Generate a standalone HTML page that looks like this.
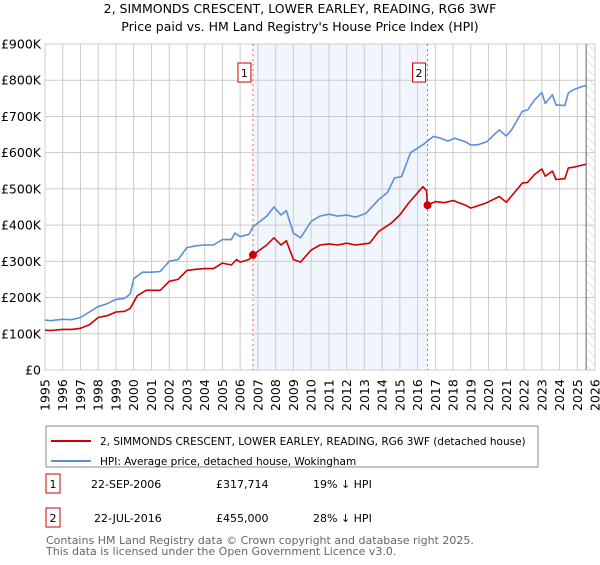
<!DOCTYPE html>
<html><head><meta charset="utf-8"><style>
body{margin:0;background:#fff;font-family:"Liberation Sans","DejaVu Sans",sans-serif;}
svg text{font-family:"DejaVu Sans","Liberation Sans",sans-serif;}
</style></head><body>
<svg id="c" width="600" height="560" viewBox="0 0 600 560">
<text x="300" y="13" text-anchor="middle" font-size="12.5" fill="#000">2, SIMMONDS CRESCENT, LOWER EARLEY, READING, RG6 3WF</text>
<text x="300" y="31" text-anchor="middle" font-size="12.5" fill="#000">Price paid vs. HM Land Registry's House Price Index (HPI)</text>
<g id="plot"></g>
<rect x="46" y="426" width="492" height="41" fill="#fff" stroke="#888"/>
<line x1="51" y1="441" x2="91" y2="441" stroke="#cc0000" stroke-width="2"/>
<text x="100" y="445" font-size="10.5">2, SIMMONDS CRESCENT, LOWER EARLEY, READING, RG6 3WF (detached house)</text>
<line x1="51" y1="461" x2="91" y2="461" stroke="#5b8fd6" stroke-width="2"/>
<text x="100" y="465" font-size="10.5">HPI: Average price, detached house, Wokingham</text>
<g>
<rect x="46" y="474" width="14" height="19" fill="#fff" stroke="#cc0000"/>
<text x="53" y="488" font-size="11" text-anchor="middle">1</text>
<text x="91" y="488" font-size="11">22-SEP-2006</text>
<text x="216" y="488" font-size="11">£317,714</text>
<text x="313" y="488" font-size="11">19% ↓ HPI</text></g>
<g>
<rect x="46" y="508" width="14" height="19" fill="#fff" stroke="#cc0000"/>
<text x="53" y="522" font-size="11" text-anchor="middle">2</text>
<text x="94" y="522" font-size="11">22-JUL-2016</text>
<text x="216" y="522" font-size="11">£455,000</text>
<text x="313" y="522" font-size="11">28% ↓ HPI</text></g>
<text x="46" y="544" font-size="11" fill="#666">Contains HM Land Registry data © Crown copyright and database right 2025.</text>
<text x="46" y="555" font-size="11" fill="#666">This data is licensed under the Open Government Licence v3.0.</text>
</svg>
<script>
const hpiYears=[1995,1995.3,1996,1996.5,1997,1997.5,1998,1998.5,1999,1999.5,1999.8,2000,2000.5,2001,2001.5,2002,2002.5,2003,2003.5,2004,2004.5,2005,2005.5,2005.7,2006,2006.5,2006.72,2007.5,2007.9,2008.3,2008.6,2009,2009.4,2010,2010.5,2011,2011.5,2012,2012.5,2013.1,2013.8,2014.3,2014.7,2015.1,2015.6,2016.3,2016.9,2017.3,2017.7,2018.1,2018.7,2019,2019.4,2019.9,2020.6,2021,2021.3,2021.9,2022.2,2022.6,2023,2023.2,2023.6,2023.8,2024.3,2024.5,2024.8,2025.3,2025.5];
const hpiValues=[138,136,140,139,145,160,175,183,195,198,210,252,270,270,272,300,305,338,343,345,345,360,360,378,368,375,395,425,450,428,440,378,365,410,425,430,425,428,422,433,470,490,530,534,600,622,645,640,632,640,630,621,622,630,663,646,663,714,718,746,766,736,760,732,730,765,774,783,785];
const propYears=[1995,1995.3,1996,1996.5,1997,1997.5,1998,1998.5,1999,1999.5,1999.8,2000.2,2000.7,2001.5,2002,2002.5,2003,2003.5,2004,2004.5,2005,2005.5,2005.8,2006,2006.5,2006.72,2007.5,2007.9,2008.3,2008.6,2009,2009.4,2010,2010.5,2011,2011.5,2012,2012.5,2013.3,2013.8,2014.5,2015,2015.5,2016.3,2016.5,2016.56,2017,2017.5,2018,2018.7,2019,2019.9,2020.6,2021,2021.9,2022.2,2022.6,2023,2023.2,2023.6,2023.8,2024.3,2024.5,2024.8,2025.3,2025.5];
const propValues=[110,109,112,112,115,125,145,150,160,162,170,205,220,220,245,250,275,278,280,280,295,290,305,298,305,317.714,345,365,345,357,305,298,331,345,348,345,350,345,350,382,405,428,461,506,495,455,465,462,468,455,447,462,479,463,516,518,540,555,535,549,526,528,558,560,566,568];
const yTicks=[0,100,200,300,400,500,600,700,800,900];
const yTickLabels=["£0","£100K","£200K","£300K","£400K","£500K","£600K","£700K","£800K","£900K"];
const xTickYears=[1995,1996,1997,1998,1999,2000,2001,2002,2003,2004,2005,2006,2007,2008,2009,2010,2011,2012,2013,2014,2015,2016,2017,2018,2019,2020,2021,2022,2023,2024,2025,2026];
const saleYears=[2006.72,2016.56];
const saleValues=[317.714,455];
const saleLabels=["1","2"];
const hatchStart=2025.5;

const L=45,R=595,T=44,B=370,X0=1995,X1=2026,YMAX=900;
const xs=v=>L+(v-X0)/(X1-X0)*(R-L);
const ys=v=>B-v/YMAX*(B-T);
const NS="http://www.w3.org/2000/svg";
const g=document.getElementById('plot');
function mk(t,a,p){const e=document.createElementNS(NS,t);for(const k in a)e.setAttribute(k,a[k]);(p||g).appendChild(e);return e;}
const defs=mk('defs',{});
const pat=mk('pattern',{id:'hatch',width:6,height:6,patternUnits:'userSpaceOnUse',patternTransform:'rotate(-45)'},defs);
mk('line',{x1:0,y1:0,x2:0,y2:6,stroke:'#ccc','stroke-width':1},pat);
let sh=mk('rect',{x:xs(saleYears[0]),y:T,width:xs(saleYears[1])-xs(saleYears[0]),height:B-T,fill:'#eef3fc',opacity:0.8});


let hr=mk('rect',{x:xs(hatchStart),y:T,width:R-xs(hatchStart),height:B-T,fill:'url(#hatch)'});


yTicks.forEach((v,i)=>{
 mk('line',{x1:L,x2:R,y1:ys(v),y2:ys(v),stroke:'#ccc','stroke-width':1});
 const t=mk('text',{x:L-4,y:ys(v)+4.5,'text-anchor':'end','font-size':12.5});
 t.textContent=yTickLabels[i];
 
 
});
xTickYears.forEach(v=>{
 mk('line',{x1:xs(v),x2:xs(v),y1:T,y2:B,stroke:'#ccc','stroke-width':1});
 const t=mk('text',{x:0,y:0,'font-size':12.5,transform:`translate(${xs(v)+4.5},${B+41}) rotate(-90)`});
 t.textContent=v;
 
 
});
mk('rect',{x:L,y:T,width:R-L,height:B-T,fill:'none',stroke:'#ccc'});
mk('line',{x1:xs(hatchStart),x2:xs(hatchStart),y1:T,y2:B,stroke:'#666','stroke-width':1});
saleYears.forEach((v,i)=>{
 const l=mk('line',{x1:xs(v),x2:xs(v),y1:T,y2:B,stroke:'#f06060','stroke-width':1,'stroke-dasharray':'2,3'});
 
 
 const bx=xs(v)-15;
 const r=mk('rect',{x:bx,y:63,width:13,height:19,fill:'#fff',stroke:'#cc0000'});
 
 
 const t=mk('text',{x:bx+6.5,y:77,'text-anchor':'middle','font-size':11});
 t.textContent=saleLabels[i];
});
function path(xa,ya,color,name){
 const d=xa.map((x,i)=>(i?'L':'M')+xs(x).toFixed(1)+','+ys(ya[i]).toFixed(1)).join('');
 const p=mk('path',{d,fill:'none',stroke:color,'stroke-width':1.6,'stroke-linejoin':'round'});
 
 
}
path(hpiYears,hpiValues,'#5b8fd6','hpi-line');
path(propYears,propValues,'#cc0000','property-line');
saleYears.forEach((v,i)=>{
 const c=mk('circle',{cx:xs(v),cy:ys(saleValues[i]),r:4,fill:'#cc0000'});
 
 
});
</script>
</body></html>
